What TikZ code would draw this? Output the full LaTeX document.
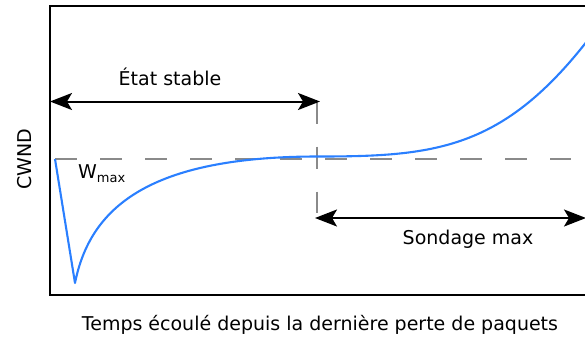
\documentclass[tikz,border=0pt]{standalone}
\usepackage{fontspec}
\setmainfont{DejaVu Sans}
\usetikzlibrary{arrows.meta}
\definecolor{curveblue}{RGB}{42,127,255}
\definecolor{dashgrey}{RGB}{138,138,138}
\begin{document}
\begin{tikzpicture}[x=1pt,y=-1pt,
  frame/.style={draw=black,line width=2pt},
  span/.style={draw=black,line width=2pt,
    {Stealth[length=22pt,width=17pt,inset=5pt]}-{Stealth[length=22pt,width=17pt,inset=5pt]}},
  guide/.style={draw=dashgrey,line width=2pt,dash pattern=on 22pt off 23pt},
  cwndcurve/.style={draw=curveblue,line width=2.1pt,line join=round},
  lbl/.style={inner sep=0pt,font=\fontsize{19}{23}\selectfont}]
\path[use as bounding box, clip] (0,0) rectangle (585,338);
% frame (right side lies outside the picture)
\draw[frame] (50,6) rectangle (610,295);
% guide lines
\coordinate (wstart) at (55,159);
\coordinate (wend) at (571,159);
\coordinate (vtop) at (317,101.5);
\coordinate (vbot) at (317,213);
\draw[guide] (wstart) -- (wend);
\draw[guide] (vtop) -- (vbot);
% cwnd curve
\coordinate (cusp) at (75,283);
\coordinate (plateau) at (318,156.5);
\coordinate (exit) at (597,28);
\draw[cwndcurve] (wstart) -- (cusp)
  .. controls (90,208) and (148,156.5) .. (plateau)
  .. controls (438,156.5) and (507,149.5) .. (exit);
% spans
\coordinate (sl) at (50,101.5);
\coordinate (sr) at (320,101.5);
\coordinate (pl) at (315,218);
\coordinate (pr) at (586,218);
\draw[span] (sl) -- (sr);
\draw[span] (pl) -- (pr);
% labels
\node[lbl,anchor=base] (etat) at (170,85) {État stable};
\node[lbl,anchor=base] (sondage) at (468,244) {Sondage max};
\node[lbl,anchor=base,rotate=90] (ylab) at (31.5,159) {CWND};
\node[lbl,anchor=base west] (wmax) at (78,178) {W\raisebox{-4pt}{\fontsize{13}{15}\selectfont max}};
\node[lbl,anchor=base] (xlab) at (320,330) {Temps écoulé depuis la dernière perte de paquets};
\end{tikzpicture}
\end{document}
